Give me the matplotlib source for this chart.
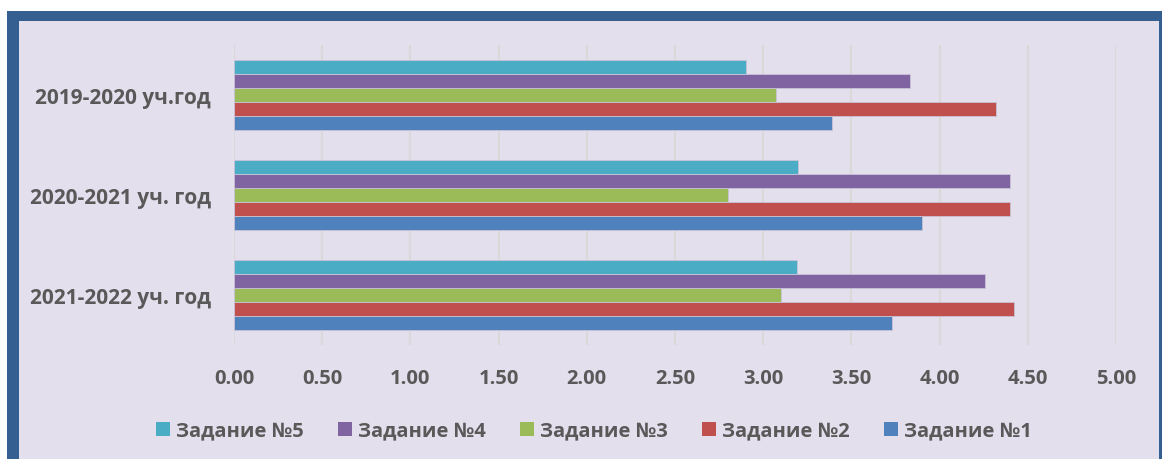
#!/usr/bin/env python3
"""Grouped horizontal bars: average score per task by school year."""

import matplotlib.pyplot as plt
import numpy as np
from matplotlib.patches import Rectangle

# categories from bottom to top
years = ["2021-2022 уч. год", "2020-2021 уч. год", "2019-2020 уч.год"]
series_names = ["Задание №1", "Задание №2", "Задание №3", "Задание №4", "Задание №5"]

task1 = [3.73, 3.90, 3.39]
task2 = [4.42, 4.40, 4.32]
task3 = [3.10, 2.80, 3.07]
task4 = [4.26, 4.40, 3.83]
task5 = [3.19, 3.20, 2.90]

x_ticks = [0.0, 0.5, 1.0, 1.5, 2.0, 2.5, 3.0, 3.5, 4.0, 4.5, 5.0]

colors = ["#4F81BD", "#C0504D", "#9BBB59", "#8064A2", "#4BACC6"]
text_color = "#595959"
bg = "#E4DFEC"
frame = "#355F91"

W, H = 1162, 459
plt.rcParams["font.family"] = ["Open Sans", "DejaVu Sans"]

fig = plt.figure(figsize=(W / 100, H / 100), dpi=100, facecolor="white")


def px_rect(x0, y0, x1, y1, color):
    # rectangle given in image pixel coordinates (origin top-left)
    return Rectangle((x0 / W, 1 - y1 / H), (x1 - x0) / W, (y1 - y0) / H,
                     transform=fig.transFigure, facecolor=color,
                     edgecolor="none", zorder=-10)


fig.patches.append(px_rect(7, 11, W, H + 5, frame))
fig.patches.append(px_rect(19, 21, 1159, H + 5, bg))

ax = fig.add_axes([234 / W, 1 - 345 / H, (1116 - 234) / W, 300 / H])
ax.set_facecolor("none")

values = [task1, task2, task3, task4, task5]
y = np.arange(len(years))
bar_h = 0.14
for i, (vals, col, name) in enumerate(zip(values, colors, series_names)):
    offs = (i - 2) * bar_h
    ax.barh(y + offs, vals, height=bar_h, color=col, edgecolor="#C9C3D6",
            linewidth=0.6, label=name, zorder=3)

ax.set_xlim(0, 5)
ax.set_ylim(-0.5, 2.5)
ax.set_xticks(x_ticks)
ax.set_xticklabels([f"{t:.2f}" for t in x_ticks], fontsize=14.5,
                   fontweight="bold", color=text_color)
ax.set_yticks(y - 0.01)
ax.set_yticklabels(years, fontsize=15, fontweight="bold", color=text_color)
ax.tick_params(axis="both", length=0)
ax.tick_params(axis="x", pad=17)
ax.tick_params(axis="y", pad=16.5)
ax.grid(axis="x", color="#D9D9D9", linewidth=1.5, zorder=0)
for s in ax.spines.values():
    s.set_visible(False)

handles, labels = ax.get_legend_handles_labels()
leg = fig.legend(handles[::-1], labels[::-1], loc="center",
                 bbox_to_anchor=(594 / W, 1 - 431 / H), ncol=5,
                 frameon=False, handlelength=0.69, handleheight=0.69,
                 handletextpad=0.3, columnspacing=1.7,
                 prop={"size": 14.5, "weight": "bold"})
for t in leg.get_texts():
    t.set_color(text_color)
for h in leg.legend_handles:
    h.set_edgecolor("none")

fig.savefig("out.png", dpi=100, facecolor="white")
